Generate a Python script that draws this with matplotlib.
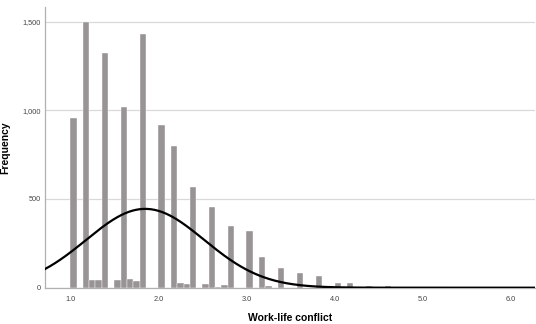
import numpy as np
import matplotlib
matplotlib.use('Agg')
import matplotlib.pyplot as plt

plt.rcParams['font.family'] = ['Liberation Sans', 'DejaVu Sans']

# histogram bins: 70 bins over 1..6, width 1/14
bin_start = 1.0
bin_width = 1 / 14
# bin index -> frequency (empty bins left out)
bin_index = [0, 2, 3, 4, 5, 7, 8, 9, 10, 11, 14, 16, 17, 18, 19, 21, 22, 23, 24,
             25, 28, 30, 31, 33, 36, 39, 42, 44, 47, 50]
freq = [955, 1500, 41, 41, 1321, 41, 1020, 47, 38, 1430, 917, 800, 24, 19, 569,
        23, 457, 6, 15, 348, 321, 173, 9, 109, 85, 64, 25, 28, 11, 9]

# normal curve parameters
curve_mean = 1.85
curve_sd = 0.67

x_ticks = [1.0, 2.0, 3.0, 4.0, 5.0, 6.0]
y_ticks = [0, 500, 1000, 1500]

fig = plt.figure(figsize=(5.36, 3.24), dpi=100)
ax = fig.add_axes([45 / 536, 1 - 287.7 / 324, 490 / 536, 280.7 / 324])

lefts = bin_start + np.array(bin_index) * bin_width
ax.bar(lefts, freq, width=bin_width, align='edge', color='#989395',
       edgecolor='white', linewidth=0.3, zorder=2)

# fitted normal curve scaled to counts
x0, x1 = 0.713, 6.275
xs = np.linspace(x0, x1, 400)
n_total = sum(freq)
pdf = np.exp(-0.5 * ((xs - curve_mean) / curve_sd) ** 2) / (curve_sd * np.sqrt(2 * np.pi))
ax.plot(xs, n_total * bin_width * pdf, color='black', lw=1.6, zorder=3)

ax.set_xlim(x0, x1)
ax.set_ylim(0, 1582)
ax.set_xticks(x_ticks)
ax.set_xticklabels([f'{t:.1f}' for t in x_ticks])
ax.set_yticks(y_ticks)
ax.set_yticklabels([f'{t:,}' for t in y_ticks])
ax.tick_params(length=0, labelsize=5.3, colors='#444444', pad=3)
ax.tick_params(axis='x', pad=6)

ax.grid(axis='y', color='#d9d9d9', lw=0.9, zorder=0)
ax.set_axisbelow(True)
for side in ['top', 'right']:
    ax.spines[side].set_visible(False)
for side in ['left', 'bottom']:
    ax.spines[side].set_color('#b0b0b0')
    ax.spines[side].set_linewidth(0.9)

ax.set_xlabel('Work-life conflict', fontsize=7.5, fontweight='bold', labelpad=7)
ax.set_ylabel('Frequency', fontsize=7.5, fontweight='bold')
ax.yaxis.set_label_coords(-35 / 490, 0.5)

fig.savefig('out.png', dpi=100)
